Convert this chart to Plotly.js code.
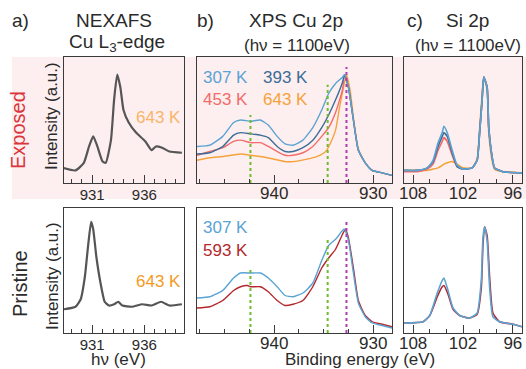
<!DOCTYPE html>
<html>
<head>
<meta charset="utf-8">
<script src="https://cdn.plot.ly/plotly-3.0.1.min.js"></script>
<style>html,body{margin:0;padding:0;background:#fff;}#chart{width:526px;height:369px;}</style>
</head>
<body>
<div id="chart"></div>
<script>
// ---------- DATA ----------
// a) NEXAFS Cu L3-edge (photon energy, eV)
const nexafsExpE = [928.2,929.4,930.2,930.7,931.1,931.5,932.0,932.3,932.8,933.1,933.4,933.7,934.0,934.5,935.2,936.1,936.7,937.1,937.7,938.4,939.6];
const nexafsExpI = [0.12,0.10,0.16,0.29,0.37,0.29,0.17,0.16,0.34,0.66,0.86,0.76,0.58,0.48,0.40,0.33,0.26,0.29,0.28,0.25,0.24];
const nexafsPriE = [928.3,929.4,929.9,930.3,930.6,930.9,931.1,931.4,931.8,932.2,932.6,933.1,933.5,933.9,934.8,935.8,936.7,937.6,938.4,939.6];
const nexafsPriI = [0.19,0.21,0.27,0.45,0.69,0.89,0.83,0.61,0.40,0.25,0.22,0.23,0.25,0.22,0.21,0.23,0.22,0.25,0.22,0.23];

// b) XPS Cu 2p (binding energy, eV) - exposed
const cuExpE = [947.8,946.5,945.2,944.1,943.4,942.4,941.4,940.6,939.7,938.9,938.1,937.1,936.1,935.2,934.5,933.8,933.1,932.9,932.5,932.0,931.5,930.8,930.1,929.1,928.1];
const cuExp307 = [0.29,0.30,0.37,0.48,0.50,0.49,0.50,0.46,0.37,0.31,0.30,0.34,0.44,0.58,0.71,0.79,0.84,0.86,0.76,0.50,0.26,0.16,0.10,0.08,0.06];
const cuExp393 = [0.23,0.24,0.29,0.38,0.40,0.39,0.38,0.36,0.29,0.25,0.25,0.28,0.34,0.44,0.54,0.66,0.80,0.86,0.76,0.50,0.26,0.16,0.10,0.08,0.06];
const cuExp453 = [0.22,0.25,0.28,0.33,0.34,0.32,0.32,0.29,0.25,0.22,0.22,0.24,0.29,0.37,0.44,0.56,0.74,0.86,0.76,0.50,0.26,0.16,0.10,0.08,0.06];
const cuExp643E = [947.8,946.5,945.2,943.4,942.4,941.4,940.1,938.9,938.1,936.7,935.7,934.8,934.3,933.8,933.4,933.0,932.7,932.3,932.0,931.5,930.8,930.1,929.1,928.1];
const cuExp643 = [0.18,0.20,0.21,0.23,0.22,0.21,0.19,0.17,0.17,0.19,0.21,0.25,0.32,0.42,0.60,0.76,0.86,0.72,0.52,0.27,0.16,0.10,0.08,0.06];
// b) XPS Cu 2p - pristine
const cuPriE307 = [947.8,946.5,945.2,944.1,943.4,942.4,941.4,940.6,939.7,938.9,938.1,937.1,936.1,935.2,934.5,933.8,933.1,932.9,932.5,932.0,931.5,930.8,930.1,929.1,928.1];
const cuPri307 = [0.28,0.29,0.34,0.44,0.48,0.48,0.48,0.44,0.37,0.30,0.29,0.32,0.40,0.58,0.70,0.75,0.82,0.83,0.74,0.48,0.24,0.13,0.08,0.06,0.04];
const cuPriE593 = [947.8,946.5,945.2,944.1,943.4,942.7,942.4,941.4,940.6,939.7,938.9,938.1,937.1,936.1,935.2,934.5,933.8,933.1,932.8,932.5,932.0,931.5,930.8,930.1,929.1,928.1];
const cuPri593 = [0.20,0.21,0.26,0.34,0.37,0.38,0.37,0.37,0.33,0.26,0.22,0.23,0.26,0.37,0.52,0.60,0.67,0.79,0.83,0.76,0.52,0.26,0.14,0.09,0.07,0.05];
// guide lines (binding energy) and their heights
const guideE = [942.4, 934.6, 932.7];
const guideTopExp = [0.54, 0.78, 0.92];
const guideTopPri = [0.52, 0.75, 0.90];
const guideColors = ['#6dbb2e', '#6dbb2e', '#b03cb0'];

// c) Si 2p - exposed
const siExpE = [109.1,107.5,106.3,105.6,105.0,104.5,104.3,103.9,103.3,102.7,102.0,100.9,100.3,100.0,99.7,99.5,99.1,98.9,98.5,98.2,97.2,94.9];
const siExp307 = [0.10,0.10,0.12,0.18,0.32,0.40,0.45,0.40,0.26,0.14,0.11,0.12,0.18,0.40,0.66,0.84,0.76,0.44,0.21,0.12,0.09,0.08];
const siExp393 = [0.10,0.10,0.12,0.17,0.29,0.37,0.40,0.37,0.24,0.13,0.11,0.12,0.18,0.40,0.66,0.84,0.76,0.44,0.21,0.12,0.09,0.08];
const siExp453 = [0.09,0.09,0.11,0.15,0.26,0.33,0.36,0.33,0.22,0.13,0.11,0.12,0.18,0.40,0.66,0.84,0.76,0.44,0.21,0.12,0.09,0.08];
const siExp643 = [0.10,0.10,0.10,0.11,0.12,0.14,0.15,0.16,0.17,0.15,0.12,0.12,0.19,0.43,0.70,0.84,0.74,0.40,0.18,0.11,0.09,0.08];
// c) Si 2p - pristine
const siPriE = [109.1,106.8,106.0,105.1,104.5,104.3,103.8,103.2,102.4,101.2,100.3,99.8,99.6,99.4,99.1,98.8,98.4,97.6,96.0,94.9];
const siPri307 = [0.08,0.09,0.14,0.32,0.42,0.44,0.34,0.20,0.14,0.12,0.16,0.42,0.76,0.85,0.74,0.37,0.13,0.09,0.07,0.05];
const siPri593 = [0.08,0.09,0.14,0.29,0.37,0.38,0.31,0.19,0.14,0.12,0.15,0.36,0.70,0.85,0.78,0.45,0.16,0.09,0.07,0.05];

const tempLabelsExp = ['307 K', '393 K', '453 K', '643 K'];
const tempLabelsPri = ['307 K', '593 K'];
const nexafsLabel = '643 K';

// ---------- STYLE ----------
const W = 526, H = 369;
const FONT = 'Liberation Sans, Arial, sans-serif';
const C = {c307:'#5aa3d3', c393:'#3c6c97', c453:'#f36b6b', c643:'#f5a23a', c593:'#b3282d', gray:'#555555', box:'#3a3a3a', txt:'#2a2a2a'};
const px = v => v / W;
const py = v => 1 - v / H;

const traces = [];
function line(x, y, xa, ya, color, width) {
  traces.push({x:x, y:y, xaxis:xa, yaxis:ya, type:'scatter', mode:'lines',
    line:{color:color, width:width, shape:'spline', smoothing:0.5}, hoverinfo:'skip', showlegend:false});
}
// a
line(nexafsExpE, nexafsExpI, 'x', 'y', C.gray, 2.2);
line(nexafsPriE, nexafsPriI, 'x4', 'y4', C.gray, 2.2);
// guides
function guides(xa, ya, tops) {
  guideE.forEach((e, i) => {
    traces.push({x:[e, e], y:[0, tops[i]], xaxis:xa, yaxis:ya, type:'scatter', mode:'lines',
      line:{color:guideColors[i], width:2, dash:'dot'}, hoverinfo:'skip', showlegend:false});
  });
}
// b exposed
line(cuExp643E, cuExp643, 'x2', 'y2', C.c643, 1.4);
line(cuExpE, cuExp453, 'x2', 'y2', C.c453, 1.4);
line(cuExpE, cuExp393, 'x2', 'y2', C.c393, 1.4);
line(cuExpE, cuExp307, 'x2', 'y2', C.c307, 1.4);
guides('x2', 'y2', guideTopExp);
// b pristine
line(cuPriE593, cuPri593, 'x5', 'y5', C.c593, 1.4);
line(cuPriE307, cuPri307, 'x5', 'y5', C.c307, 1.4);
guides('x5', 'y5', guideTopPri);
// c
line(siExpE, siExp643, 'x3', 'y3', C.c643, 1.6);
line(siExpE, siExp453, 'x3', 'y3', C.c453, 1.6);
line(siExpE, siExp393, 'x3', 'y3', C.c393, 1.6);
line(siExpE, siExp307, 'x3', 'y3', C.c307, 1.6);
line(siPriE, siPri593, 'x6', 'y6', C.c593, 1.6);
line(siPriE, siPri307, 'x6', 'y6', C.c307, 1.6);

// ---------- AXES ----------
const boxesX = {a:[64,184], b:[197,392], c:[404,522]};
const boxesY = {top:[57,183], bot:[208,333]};
function xax(box, range, dtick, tick0, minorD, tickSize, standoff, anchor) {
  return {domain:[px(box[0]), px(box[1])], range:range, anchor:anchor,
    showline:true, mirror:true, linecolor:C.box, linewidth:1, showgrid:false, zeroline:false,
    ticks:'inside', ticklen:8, tickwidth:1, tickcolor:C.box, dtick:dtick, tick0:tick0,
    ticklabelstandoff:standoff,
    minor:{dtick:minorD, tick0:tick0, ticks:'inside', ticklen:4, tickcolor:C.box, showgrid:false},
    tickfont:{family:FONT, size:tickSize, color:C.txt}, fixedrange:true};
}
function yax(rowY, anchor) {
  return {domain:[py(rowY[1]), py(rowY[0])], range:[0, 1], anchor:anchor,
    showline:true, mirror:true, linecolor:C.box, linewidth:1, showgrid:false, zeroline:false,
    showticklabels:false, ticks:'', fixedrange:true};
}
const layout = {
  width:W, height:H, margin:{l:0, r:0, t:0, b:0},
  paper_bgcolor:'#ffffff', plot_bgcolor:'rgba(0,0,0,0)', showlegend:false,
  font:{family:FONT, color:C.txt},
  xaxis: xax(boxesX.a, [928.3, 939.8], 5, 931, 1, 15, -2, 'y'),
  xaxis2: xax(boxesX.b, [947.8, 928.1], 10, 930, 2.5, 17, -5, 'y2'),
  xaxis3: xax(boxesX.c, [109.1, 94.9], 6, 96, 2, 17, -5, 'y3'),
  xaxis4: xax(boxesX.a, [928.3, 939.8], 5, 931, 1, 15, -2, 'y4'),
  xaxis5: xax(boxesX.b, [947.8, 928.1], 10, 930, 2.5, 17, -5, 'y5'),
  xaxis6: xax(boxesX.c, [109.1, 94.9], 6, 96, 2, 17, -5, 'y6'),
  yaxis: yax(boxesY.top, 'x'),
  yaxis2: yax(boxesY.top, 'x2'),
  yaxis3: yax(boxesY.top, 'x3'),
  yaxis4: yax(boxesY.bot, 'x4'),
  yaxis5: yax(boxesY.bot, 'x5'),
  yaxis6: yax(boxesY.bot, 'x6'),
  shapes:[{type:'rect', xref:'paper', yref:'paper', x0:px(12), x1:1, y0:py(199), y1:py(57),
    fillcolor:'#fdefef', line:{width:0}, layer:'below'}],
  annotations:[]
};
function ann(text, x, y, size, color, angle) {
  layout.annotations.push({text:text, xref:'paper', yref:'paper', x:px(x), y:py(y),
    xanchor:'center', yanchor:'middle', showarrow:false, textangle:angle || 0,
    font:{family:FONT, size:size, color:color || C.txt}});
}
ann('a)', 20, 21, 19);
ann('NEXAFS', 114, 21, 19);
ann('Cu L<sub>3</sub>-edge', 117, 43, 19);
ann('b)', 205, 21, 19);
ann('XPS Cu 2p', 296, 21, 19);
ann('(hν = 1100eV)', 297, 45, 17);
ann('c)', 415, 21, 19);
ann('Si 2p', 468, 21, 19);
ann('(hν = 1100eV)', 468, 45, 17);
ann('Exposed', 18, 130, 20, '#d9353a', -90);
ann('Pristine', 20, 284, 20, C.txt, -90);
ann('Intensity (a.u.)', 52, 116, 17, C.txt, -90);
ann('Intensity (a.u.)', 52, 276, 17, C.txt, -90);
ann(nexafsLabel, 158, 117, 17, '#f7b56a');
ann(nexafsLabel, 158, 281, 17, '#f39a1e');
ann(tempLabelsExp[0], 225, 77, 17, C.c307);
ann(tempLabelsExp[1], 285, 77, 17, C.c393);
ann(tempLabelsExp[2], 225, 100, 17, C.c453);
ann(tempLabelsExp[3], 285, 100, 17, C.c643);
ann(tempLabelsPri[0], 225, 227, 17, C.c307);
ann(tempLabelsPri[1], 225, 250, 17, C.c593);
ann('hν (eV)', 118, 359, 17);
ann('Binding energy (eV)', 360, 359, 17);

Plotly.newPlot('chart', traces, layout, {staticPlot:true, displayModeBar:false});
</script>
</body>
</html>
